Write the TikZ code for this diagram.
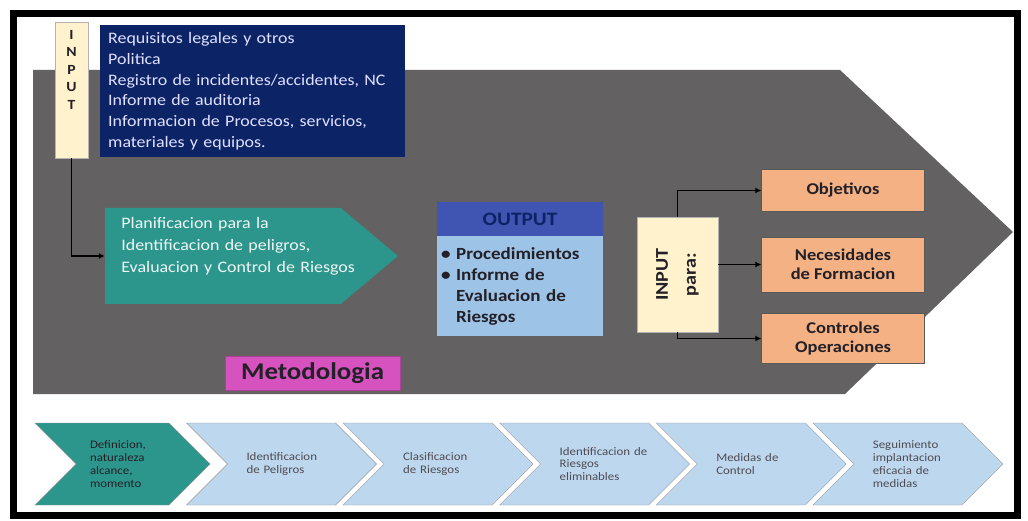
\documentclass[tikz,border=0pt]{standalone}
\usepackage{fontspec}
\setmainfont{Carlito}[FakeStretch=1.12]
\usepackage{graphicx}
\usetikzlibrary{shapes.symbols,arrows.meta,positioning}

\definecolor{bggray}{RGB}{99,97,97}
\definecolor{navy}{RGB}{12,36,102}
\definecolor{cream}{RGB}{255,242,204}
\definecolor{tealc}{RGB}{45,150,140}
\definecolor{outhead}{RGB}{64,84,178}
\definecolor{outbody}{RGB}{157,195,230}
\definecolor{orangebox}{RGB}{244,177,131}
\definecolor{magentac}{RGB}{214,82,190}
\definecolor{chevblue}{RGB}{189,215,238}
\definecolor{darktext}{RGB}{35,32,40}

\begin{document}
\begin{tikzpicture}[x=1pt,y=-1pt,node distance=74pt,
    arr/.style={-{Latex[length=6pt,width=6pt]},line width=1.6pt},
    obox/.style={rectangle,fill=orangebox,draw=gray!70!black,minimum width=163pt,
                 align=center,text=darktext,font=\bfseries\fontsize{16.5}{19}\selectfont},
    chev/.style={signal,signal from=west,signal to=east,fill=chevblue,draw=gray!80,
                 minimum width=190pt,minimum height=82pt,text width=100pt,align=left,
                 text=darktext!80,font=\fontsize{11.5}{12.8}\selectfont,
                 execute at begin node={\leftskip=15pt\rightskip=-25pt plus 1fil}}]
  \useasboundingbox (0,0) rectangle (1028,521);

  % big grey arrow and frame
  \fill[bggray] (33,70) -- (840,70) -- (1013,232) -- (845,394) -- (33,394) -- cycle;
  \draw[line width=7pt] (13.5,13.5) rectangle (1017,515);

  % inputs
  \node[fill=cream,draw=gray!60,minimum width=33pt,minimum height=136pt,anchor=north,
        inner xsep=2pt,inner ysep=8pt,align=center,text=darktext,
        font=\bfseries\fontsize{14}{17.5}\selectfont]
        (in1) at (71.5,22) {I\\N\\P\\U\\T\\[23.5pt]\mbox{}};
  \node[fill=navy,anchor=north west,minimum width=305pt,minimum height=132pt,
        text width=289pt,inner xsep=8pt,align=left,text=white!88!blue,
        font=\fontsize{16}{20.8}\selectfont] (src) at (100,25)
        {Requisitos legales y otros\\Politica\\Registro de incidentes/accidentes, NC\\
         Informe de auditoria\\Informacion de Procesos, servicios,\\materiales y equipos.};

  \node[signal,signal to=east,signal pointer angle=80,fill=tealc,minimum width=293pt,
        minimum height=96pt,text width=229pt,align=left,text=white!92!tealc,
        font=\fontsize{16}{22}\selectfont,
        execute at begin node={\leftskip=13pt\rightskip=-40pt plus 1fil}]
        (plan) at (222.9,256)
        {Planificacion para la\\Identificacion de peligros,\\Evaluacion y Control de Riesgos\\\mbox{}};

  % output
  \node[fill=outhead,minimum width=166pt,minimum height=34pt,text=navy,
        font=\bfseries\fontsize{19}{21}\selectfont] (outh) at (520,219) {OUTPUT};
  \node[fill=outbody,minimum width=166pt,minimum height=100pt,below=0pt of outh,
        text width=158pt,align=left,text=darktext,font=\bfseries\fontsize{17}{20.8}\selectfont]
        (outb) {\textbullet~Procedimientos\\\textbullet~Informe de\\
                \hphantom{\textbullet~}Evaluacion de\\\hphantom{\textbullet~}Riesgos};

  \node[fill=cream,draw=gray!60,minimum width=81pt,minimum height=115pt,text=darktext,
        font=\bfseries\fontsize{18}{22}\selectfont] (inp2) at (677.5,274.5)
        {\rotatebox{90}{\begin{tabular}{@{}c@{}}INPUT\\[6pt]para:\end{tabular}}};

  \node[obox,minimum height=42pt] (obj) at (843,190.5) {Objetivos};
  \node[obox,minimum height=55pt] (nec) [below of=obj] {Necesidades\\de Formacion};
  \node[obox,minimum height=50pt] (ctl) [below of=nec] {Controles\\Operaciones};

  \node[fill=magentac,draw=magentac!80!black,minimum width=175pt,minimum height=34pt,
        text=darktext,font=\bfseries\fontsize{24}{26}\selectfont] (met) at (312.5,373) {Metodologia};

  % steps
  \node[chev,fill=tealc,text=darktext,minimum width=175pt,text width=86pt,
        execute at begin node={\leftskip=10.5pt}] (c1) at (122.5,464)
        {Definicion,\\naturaleza\\alcance,\\momento};
  \node[chev,right of=c1,node distance=159pt] (c2) {Identificacion\\de Peligros};
  \node[chev,right of=c2,node distance=156.6pt] (c3) {Clasificacion\\de Riesgos};
  \node[chev,right of=c3,node distance=156.6pt] (c4) {Identificacion de\\Riesgos\\eliminables};
  \node[chev,right of=c4,node distance=156.6pt] (c5) {Medidas de\\Control};
  \node[chev,right of=c5,node distance=156.6pt] (c6) {Seguimiento\\implantacion\\eficacia de\\medidas};

  \draw[arr] (in1.south) |- (plan.west);
  \draw[arr] (inp2.north) |- (obj.west);
  \draw[arr] (inp2.east |- nec.west) -- (nec.west);
  \draw[arr] (inp2.south) |- (ctl.west);
\end{tikzpicture}
\end{document}
